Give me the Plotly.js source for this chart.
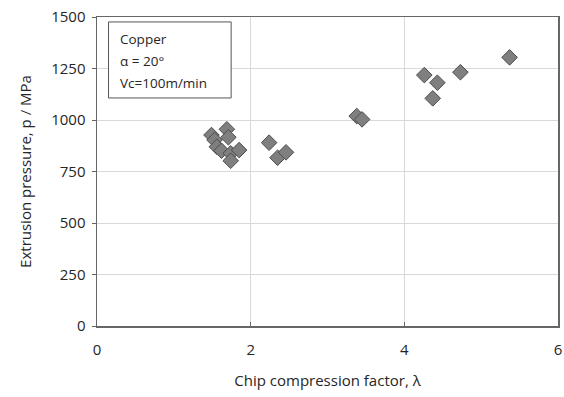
<!DOCTYPE html>
<html><head><meta charset="utf-8">
<script src="https://cdn.plot.ly/plotly-3.0.1.min.js"></script>
<style>html,body{margin:0;padding:0;background:#fff}#chart{width:564px;height:397px}</style>
</head><body><div id="chart"></div>
<script>
const lambdaVals = [1.49, 1.53, 1.69, 1.71, 1.56, 1.62, 1.74, 1.74, 1.85, 2.24, 2.35, 2.46, 3.38, 3.45, 4.26, 4.43, 4.37, 4.73, 5.37];
const pressureVals = [927, 903, 955, 916, 870, 851, 838, 802, 854, 890, 817, 843, 1019, 1003, 1218, 1181, 1105, 1232, 1304];
const xTicks = [0, 2, 4, 6];
const yTicks = [0, 250, 500, 750, 1000, 1250, 1500];
const boxLines = ['Copper', 'α = 20°', 'Vc=100m/min'];

const font = "Open Sans, Liberation Sans, sans-serif";
const txt = '#262626';
const trace = {
  x: lambdaVals, y: pressureVals, type: 'scatter', mode: 'markers',
  marker: {symbol: 'diamond', size: 12, color: '#7f7f7f', line: {color: '#4d4d4d', width: 1}},
  hoverinfo: 'skip'
};
const annotations = boxLines.map((t, i) => ({
  xref: 'paper', yref: 'paper', x: 0.045, y: 0.93 - i * 0.071,
  xanchor: 'left', yanchor: 'middle', text: t, showarrow: false,
  font: {family: font, size: 13.5, color: txt}
}));
const layout = {
  width: 564, height: 397,
  margin: {l: 96.5, r: 6, t: 17, b: 70.5},
  paper_bgcolor: '#fff', plot_bgcolor: '#fff',
  showlegend: false,
  font: {family: font, size: 15, color: txt},
  xaxis: {
    range: [0, 6], tickvals: xTicks, ticktext: xTicks.map(String),
    showgrid: true, gridcolor: '#d9d9d9', gridwidth: 1,
    zeroline: false, showline: true, linecolor: '#666', linewidth: 1.5, mirror: true,
    ticks: 'inside', ticklen: 4, tickcolor: '#666',
    ticklabelstandoff: 9,
    tickfont: {family: font, size: 15, color: txt},
    title: {text: 'Chip compression factor, λ', font: {family: font, size: 15, color: txt}, standoff: 18}
  },
  yaxis: {
    range: [0, 1500], tickvals: yTicks, ticktext: yTicks.map(String),
    showgrid: true, gridcolor: '#d9d9d9', gridwidth: 1,
    zeroline: false, showline: true, linecolor: '#666', linewidth: 1.5, mirror: true,
    ticks: 'outside', ticklen: 4, tickcolor: '#666',
    ticklabelstandoff: 3,
    tickfont: {family: font, size: 15, color: txt},
    title: {text: 'Extrusion pressure, p / MPa', font: {family: font, size: 15, color: txt}, standoff: 16}
  },
  shapes: [{
    type: 'rect', xref: 'paper', yref: 'paper', x0: 0.025, x1: 0.291, y0: 0.738, y1: 0.984,
    line: {color: '#555', width: 1}, fillcolor: '#fff'
  }],
  annotations: annotations
};
Plotly.newPlot('chart', [trace], layout, {displayModeBar: false, staticPlot: true});
</script></body></html>
